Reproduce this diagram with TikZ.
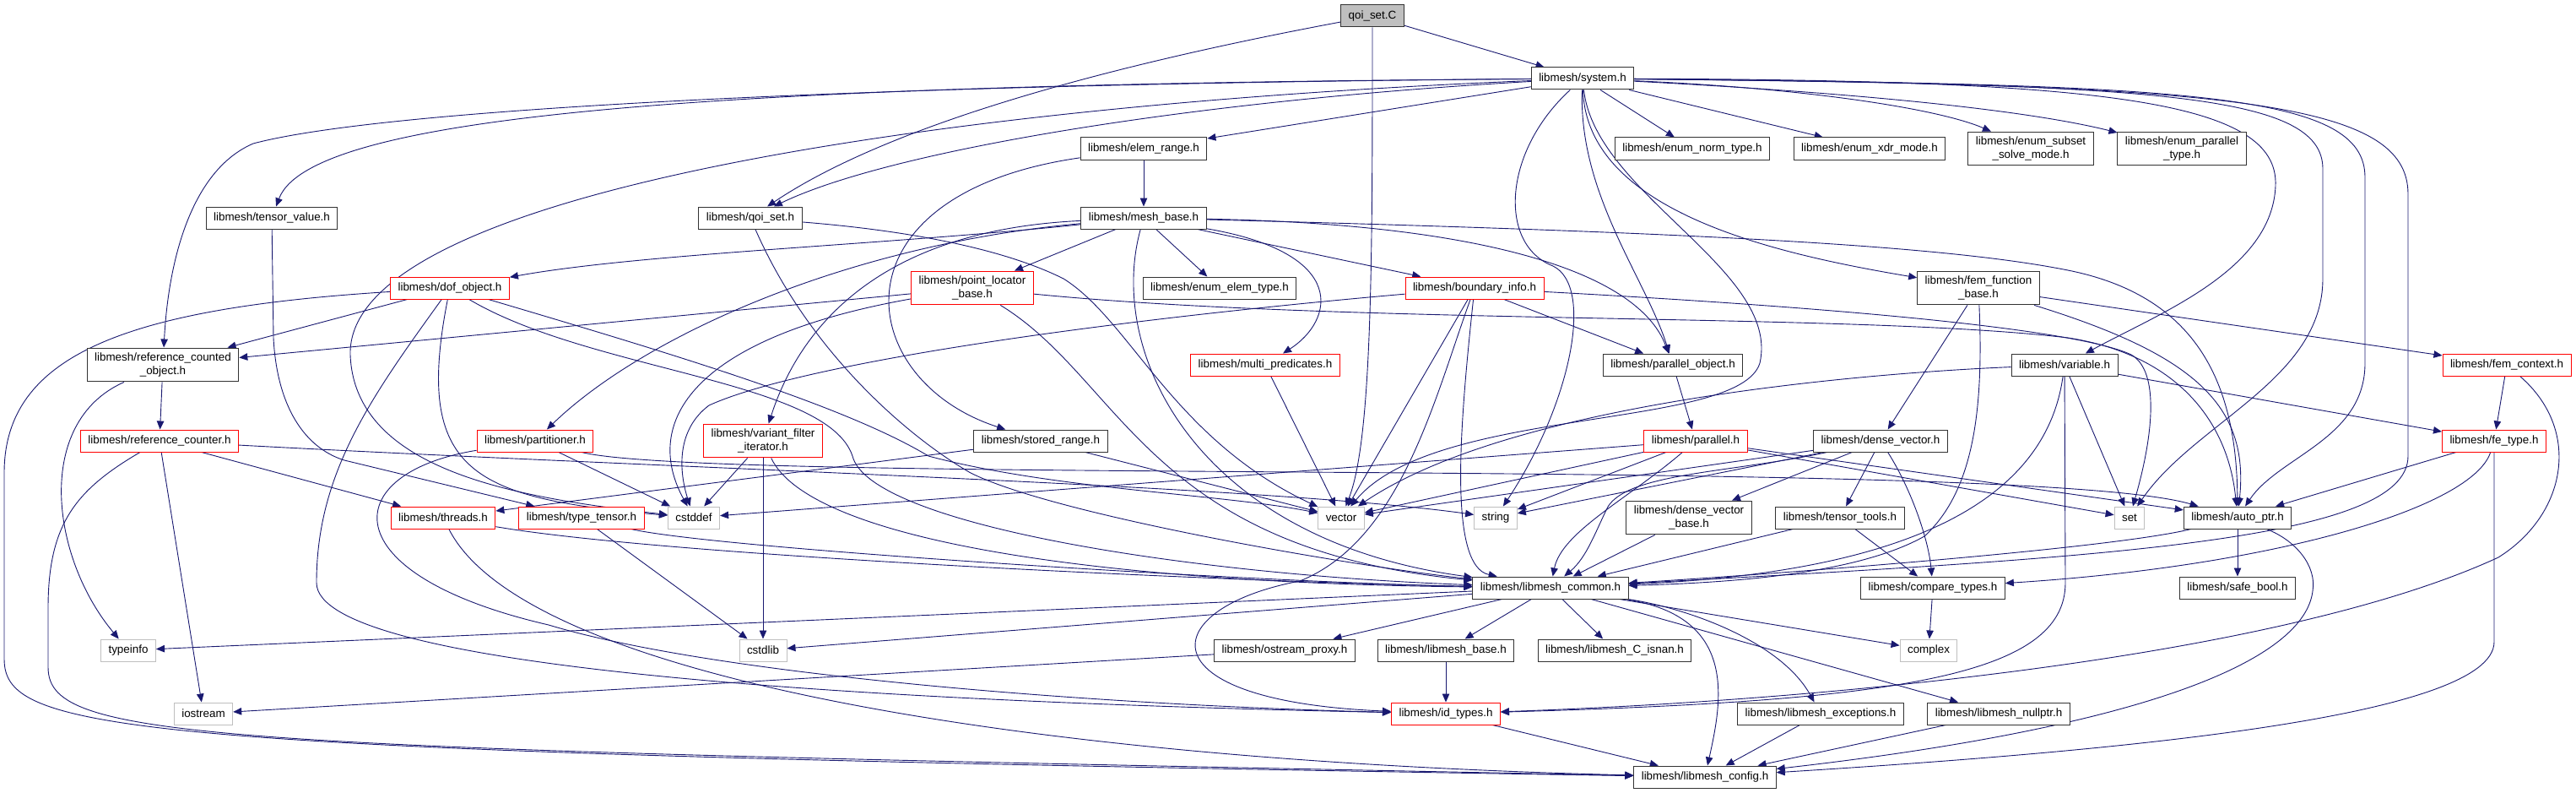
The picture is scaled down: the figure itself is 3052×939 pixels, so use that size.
\documentclass[tikz,border=0pt]{standalone}
\usepackage{fontspec}
\setmainfont{Liberation Sans}
\usetikzlibrary{arrows.meta,backgrounds}
\definecolor{edgeblue}{HTML}{191970}
\definecolor{sysgray}{HTML}{BFBFBF}
\begin{document}
\begin{tikzpicture}[x=1pt,y=1pt,
  every node/.style={font=\fontsize{13.4}{15.5}\selectfont},
  box/.style={draw=black!80,line width=1pt,fill=white,inner xsep=9pt,inner ysep=6pt,minimum height=26pt,align=center},
  redbox/.style={box,draw=red},
  sysbox/.style={box,draw=sysgray},
  rootbox/.style={box,fill=sysgray},
  edge/.style={draw=edgeblue,line width=0.9pt,-{Triangle[length=10pt,width=8.5pt]}}]
\useasboundingbox (0,0) rectangle (3052,-939);
% headers, row by row
\node[rootbox] (qoiC) at (1626,-19) {qoi\_set.C};
\node[box] (system) at (1875,-93) {libmesh/system.h};
\node[box] (elemrange) at (1355,-176) {libmesh/elem\_range.h};
\node[box] (normtype) at (2005,-176) {libmesh/enum\_norm\_type.h};
\node[box] (xdrmode) at (2215,-176) {libmesh/enum\_xdr\_mode.h};
\node[box] (subsetmode) at (2406,-176) {libmesh/enum\_subset\\\_solve\_mode.h};
\node[box] (paralleltype) at (2585,-176) {libmesh/enum\_parallel\\\_type.h};
\node[box] (tensorval) at (322,-258) {libmesh/tensor\_value.h};
\node[box] (qoiset) at (889,-258) {libmesh/qoi\_set.h};
\node[box] (meshbase) at (1355,-258) {libmesh/mesh\_base.h};
\node[redbox] (dofobj) at (533,-341) {libmesh/dof\_object.h};
\node[redbox] (pointloc) at (1152,-341) {libmesh/point\_locator\\\_base.h};
\node[box] (elemtype) at (1445,-341) {libmesh/enum\_elem\_type.h};
\node[redbox] (boundary) at (1747,-341) {libmesh/boundary\_info.h};
\node[box] (femfunc) at (2344,-341) {libmesh/fem\_function\\\_base.h};
\node[box] (refobj) at (193,-432) {libmesh/reference\_counted\\\_object.h};
\node[redbox] (multipred) at (1499,-432) {libmesh/multi\_predicates.h};
\node[box] (parobj) at (1982,-432) {libmesh/parallel\_object.h};
\node[box] (variable) at (2446,-432) {libmesh/variable.h};
\node[redbox] (femctx) at (2970,-432) {libmesh/fem\_context.h};
\node[redbox] (refcounter) at (189,-522) {libmesh/reference\_counter.h};
\node[redbox] (partitioner) at (634,-522) {libmesh/partitioner.h};
\node[redbox] (variant) at (904,-522) {libmesh/variant\_filter\\\_iterator.h};
\node[box] (storedrange) at (1233,-522) {libmesh/stored\_range.h};
\node[redbox] (parallel) at (2009,-522) {libmesh/parallel.h};
\node[box] (densevec) at (2228,-522) {libmesh/dense\_vector.h};
\node[redbox] (fetype) at (2955,-522) {libmesh/fe\_type.h};
\node[redbox] (threads) at (525,-613) {libmesh/threads.h};
\node[redbox] (typetensor) at (689,-613) {libmesh/type\_tensor.h};
\node[sysbox] (cstddef) at (822,-613) {cstddef};
\node[sysbox] (vector) at (1589,-613) {vector};
\node[sysbox] (string) at (1772,-613) {string};
\node[box] (densevecbase) at (2001,-613) {libmesh/dense\_vector\\\_base.h};
\node[box] (tensortools) at (2180,-613) {libmesh/tensor\_tools.h};
\node[sysbox] (set) at (2523,-613) {set};
\node[box] (autoptr) at (2651,-613) {libmesh/auto\_ptr.h};
\node[box] (common) at (1837,-696) {libmesh/libmesh\_common.h};
\node[box] (comparetypes) at (2290,-696) {libmesh/compare\_types.h};
\node[box] (safebool) at (2651,-696) {libmesh/safe\_bool.h};
\node[sysbox] (typeinfo) at (152,-770) {typeinfo};
\node[sysbox] (cstdlib) at (904,-770) {cstdlib};
\node[box] (ostreamproxy) at (1522,-770) {libmesh/ostream\_proxy.h};
\node[box] (mbase) at (1713,-770) {libmesh/libmesh\_base.h};
\node[box] (isnan) at (1913,-770) {libmesh/libmesh\_C\_isnan.h};
\node[sysbox] (complex) at (2285,-770) {complex};
\node[sysbox] (iostream) at (241,-845) {iostream};
\node[redbox] (idtypes) at (1713,-845) {libmesh/id\_types.h};
\node[box] (exceptions) at (2157,-845) {libmesh/libmesh\_exceptions.h};
\node[box] (nullptr) at (2368,-845) {libmesh/libmesh\_nullptr.h};
\node[box] (config) at (2020,-920) {libmesh/libmesh\_config.h};

\begin{scope}[on background layer]
% straight includes
\foreach \a/\b in {qoiC/system, system/elemrange, system/normtype, system/xdrmode,
  elemrange/meshbase, meshbase/pointloc, meshbase/elemtype, meshbase/boundary,
  dofobj/refobj, pointloc/refobj, refobj/refcounter, refcounter/threads, refcounter/iostream,
  boundary/parobj, boundary/vector, parobj/parallel, parallel/cstddef, parallel/vector,
  parallel/string, parallel/set, parallel/autoptr, multipred/vector, storedrange/threads,
  storedrange/vector, partitioner/cstddef, variant/cstddef, variant/cstdlib, typetensor/cstdlib,
  densevec/densevecbase, densevec/tensortools, densevec/vector, densevec/string,
  densevecbase/common, tensortools/common, tensortools/comparetypes, variable/set, variable/fetype,
  femfunc/densevec, femfunc/femctx, femctx/fetype, fetype/autoptr, autoptr/safebool,
  comparetypes/complex, common/typeinfo, common/cstdlib, common/ostreamproxy, common/mbase,
  common/isnan, common/complex, common/nullptr, ostreamproxy/iostream, mbase/idtypes,
  idtypes/config, exceptions/config, nullptr/config}
  \draw[edge] (\a) -- (\b);
% routed includes
\draw[edge] (qoiC) .. controls (1300,-80) and (1050,-150) .. (qoiset);
\draw[edge] (qoiC) .. controls (1626,-300) and (1626,-520) .. (vector);
\draw[edge] (system) .. controls (1400,-120) and (1050,-180) .. (qoiset);
\draw[edge] (system) .. controls (900,-100) and (370,-130) .. (tensorval);
\draw[edge] (system) .. controls (1000,-100) and (450,-130) .. (300,-170) .. controls (230,-200) and (200,-300) .. (refobj);
\draw[edge] (system) .. controls (1100,-125) and (410,-230) .. (415,-420) .. controls (420,-560) and (620,-590) .. (cstddef);
\draw[edge] (system) .. controls (2150,-105) and (2300,-130) .. (subsetmode);
\draw[edge] (system) .. controls (2200,-110) and (2400,-130) .. (paralleltype);
\draw[edge] (system) .. controls (1780,-180) and (1775,-290) .. (1840,-315) .. controls (1890,-340) and (1860,-480) .. (string);
\draw[edge] (system) .. controls (1870,-230) and (1950,-330) .. (parobj);
\draw[edge] (system) .. controls (1890,-230) and (2110,-320) .. (2085,-430) .. controls (2060,-510) and (1700,-480) .. (vector);
\draw[edge] (system) .. controls (1880,-250) and (2100,-300) .. (femfunc);
\draw[edge] (system) .. controls (2500,-95) and (2700,-120) .. (2696,-220) .. controls (2692,-320) and (2560,-370) .. (variable);
\draw[edge] (system) .. controls (2550,-100) and (2752,-110) .. (2752,-200) -- (2752,-330) .. controls (2752,-450) and (2600,-500) .. (set);
\draw[edge] (system) .. controls (2600,-100) and (2802,-110) .. (2802,-210) -- (2802,-430) .. controls (2802,-520) and (2700,-540) .. (autoptr);
\draw[edge] (system) .. controls (2650,-100) and (2853,-120) .. (2853,-230) -- (2853,-540) .. controls (2853,-640) and (2500,-660) .. (common);
\draw[edge] (elemrange) .. controls (980,-230) and (1010,-450) .. (storedrange);
\draw[edge] (meshbase) .. controls (1050,-290) and (760,-300) .. (dofobj);
\draw[edge] (meshbase) .. controls (1000,-290) and (760,-400) .. (partitioner);
\draw[edge] (meshbase) .. controls (1050,-272) and (950,-380) .. (variant);
\draw[edge] (meshbase) .. controls (1600,-300) and (1580,-380) .. (multipred);
\draw[edge] (meshbase) .. controls (1750,-265) and (1940,-320) .. (parobj);
\draw[edge] (meshbase) .. controls (1310,-420) and (1420,-640) .. (common);
\draw[edge] (meshbase) .. controls (2000,-275) and (2300,-290) .. (2450,-320) .. controls (2600,-350) and (2650,-450) .. (autoptr);
\draw[edge] (qoiset) .. controls (1100,-275) and (1200,-300) .. (1260,-330) .. controls (1340,-380) and (1390,-520) .. (vector);
\draw[edge] (qoiset) .. controls (960,-420) and (1080,-520) .. (1150,-560) .. controls (1250,-610) and (1600,-670) .. (common);
\draw[edge] (tensorval) -- (324,-400) .. controls (328,-480) and (360,-530) .. (408,-545) -- (typetensor);
\draw[edge] (dofobj) .. controls (150,-365) and (5,-420) .. (5,-560) -- (5,-780) .. controls (5,-870) and (150,-890) .. (config);
\draw[edge] (dofobj) .. controls (440,-470) and (375,-560) .. (375,-690) .. controls (375,-790) and (1000,-830) .. (idtypes);
\draw[edge] (dofobj) .. controls (490,-560) and (560,-590) .. (cstddef);
\draw[edge] (dofobj) .. controls (700,-440) and (980,-450) .. (1010,-540) .. controls (1030,-620) and (1400,-680) .. (common);
\draw[edge] (dofobj) .. controls (800,-420) and (1000,-480) .. (1100,-540) .. controls (1250,-580) and (1450,-585) .. (vector);
\draw[edge] (refobj) .. controls (40,-500) and (60,-660) .. (typeinfo);
\draw[edge] (refcounter) .. controls (90,-580) and (57,-620) .. (57,-720) -- (57,-790) .. controls (57,-880) and (250,-885) .. (config);
\draw[edge] (refcounter) .. controls (800,-555) and (1500,-575) .. (string);
\draw[edge] (partitioner) .. controls (400,-560) and (390,-680) .. (650,-740) .. controls (850,-800) and (1300,-835) .. (idtypes);
\draw[edge] (partitioner) .. controls (850,-575) and (2400,-540) .. (autoptr);
\draw[edge] (pointloc) .. controls (820,-400) and (760,-500) .. (cstddef);
\draw[edge] (pointloc) .. controls (1330,-450) and (1360,-650) .. (common);
\draw[edge] (pointloc) .. controls (1600,-385) and (2200,-370) .. (2450,-400) .. controls (2580,-420) and (2640,-500) .. (autoptr);
\draw[edge] (variant) .. controls (960,-640) and (1300,-690) .. (common);
\draw[edge] (boundary) .. controls (1730,-500) and (1715,-670) .. (common);
\draw[edge] (boundary) .. controls (1700,-470) and (1660,-640) .. (1540,-688) .. controls (1370,-720) and (1350,-830) .. (idtypes);
\draw[edge] (boundary) .. controls (1300,-380) and (950,-430) .. (840,-480) .. controls (800,-510) and (805,-560) .. (cstddef);
\draw[edge] (boundary) .. controls (2100,-360) and (2450,-385) .. (2525,-420) .. controls (2560,-440) and (2550,-520) .. (set);
\draw[edge] (threads) .. controls (800,-660) and (1500,-690) .. (common);
\draw[edge] (threads) .. controls (620,-800) and (1200,-900) .. (config);
\draw[edge] (typetensor) .. controls (850,-650) and (1500,-690) .. (common);
\draw[edge] (parallel) .. controls (1930,-590) and (1850,-630) .. (common);
\draw[edge] (densevec) .. controls (2050,-560) and (1930,-560) .. (1905,-600) .. controls (1890,-630) and (1880,-660) .. (common);
\draw[edge] (densevec) .. controls (2265,-580) and (2285,-640) .. (comparetypes);
\draw[edge] (variable) .. controls (2250,-440) and (1800,-470) .. (vector);
\draw[edge] (variable) .. controls (2420,-620) and (2200,-680) .. (common);
\draw[edge] (variable) -- (2447,-690) .. controls (2447,-800) and (2250,-830) .. (idtypes);
\draw[edge] (femfunc) .. controls (2350,-480) and (2340,-580) .. (2280,-635) .. controls (2200,-680) and (2050,-690) .. (common);
\draw[edge] (femfunc) .. controls (2600,-420) and (2665,-480) .. (autoptr);
\draw[edge] (femctx) .. controls (3060,-510) and (3040,-610) .. (2960,-660) .. controls (2700,-780) and (2150,-830) .. (idtypes);
\draw[edge] (fetype) .. controls (2930,-600) and (2700,-670) .. (comparetypes);
\draw[edge] (fetype) -- (2955,-760) .. controls (2955,-850) and (2500,-890) .. (config);
\draw[edge] (autoptr) .. controls (2500,-650) and (2100,-680) .. (common);
\draw[edge] (autoptr) .. controls (2720,-640) and (2745,-670) .. (2740,-700) .. controls (2730,-780) and (2550,-860) .. (config);
\draw[edge] (common) .. controls (2060,-730) and (2040,-830) .. (config);
\draw[edge] (common) .. controls (2000,-720) and (2110,-760) .. (exceptions);
\end{scope}
\end{tikzpicture}
\end{document}
